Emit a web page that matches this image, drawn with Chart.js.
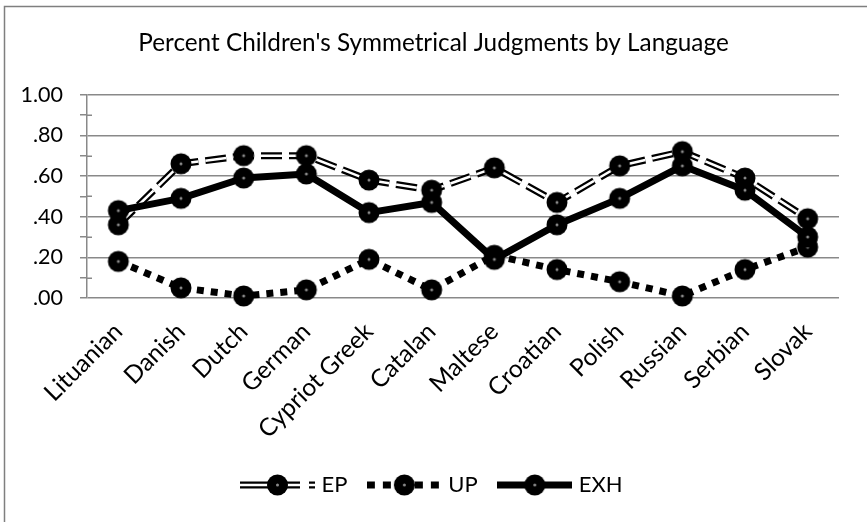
<!DOCTYPE html>
<html><head><meta charset="utf-8">
<script src="https://cdn.jsdelivr.net/npm/chart.js@4.4.1/dist/chart.umd.min.js"></script>
<style>html,body{margin:0;padding:0;background:#fff;}canvas{display:block;}</style>
</head><body>
<canvas id="c" width="867" height="522"></canvas>
<script>
const categories = ['Lituanian','Danish','Dutch','German','Cypriot Greek','Catalan','Maltese','Croatian','Polish','Russian','Serbian','Slovak'];
const epValues  = [0.36, 0.66, 0.70, 0.70, 0.58, 0.53, 0.64, 0.47, 0.65, 0.72, 0.59, 0.39];
const upValues  = [0.18, 0.05, 0.01, 0.04, 0.19, 0.04, 0.21, 0.14, 0.08, 0.01, 0.14, 0.25];
const exhValues = [0.43, 0.49, 0.59, 0.61, 0.42, 0.47, 0.19, 0.36, 0.49, 0.65, 0.53, 0.30];
const yTickLabels = ['.00', '.20', '.40', '.60', '.80', '1.00'];
const seriesNames = ['EP', 'UP', 'EXH'];
const chartTitle = "Percent Children's Symmetrical Judgments by Language";

const GRID = '#898989';
const FONT = 'Lato';
const PAD_BOTTOM = 16;
const PLOT_BOTTOM = 298;

function drawMarker(ctx, cx, cy) {
  ctx.beginPath(); ctx.arc(cx, cy, 10.5, 0, Math.PI * 2); ctx.fillStyle = '#000'; ctx.fill();
  ctx.beginPath(); ctx.arc(cx, cy, 1.5, 0, Math.PI * 2); ctx.fillStyle = '#8a8a8a'; ctx.fill();
}
function markerCanvas() {
  const c = document.createElement('canvas'); c.width = 24; c.height = 24;
  drawMarker(c.getContext('2d'), 12, 12); return c;
}
function legendSymbol(kind) {
  const c = document.createElement('canvas'); c.width = 75; c.height = 24;
  const g = c.getContext('2d'); const y = 12;
  g.lineCap = 'butt';
  if (kind === 'EP') {
    g.setLineDash([60, 9, 6, 100]);
    g.strokeStyle = '#000'; g.lineWidth = 7;
    g.beginPath(); g.moveTo(0, y); g.lineTo(75, y); g.stroke();
    g.strokeStyle = '#fff'; g.lineWidth = 2.5;
    g.beginPath(); g.moveTo(0, y); g.lineTo(75, y); g.stroke();
  } else if (kind === 'UP') {
    g.setLineDash([8, 8]);
    g.strokeStyle = '#000'; g.lineWidth = 7;
    g.beginPath(); g.moveTo(0, y); g.lineTo(75, y); g.stroke();
  } else {
    g.strokeStyle = '#000'; g.lineWidth = 7;
    g.beginPath(); g.moveTo(0, y); g.lineTo(75, y); g.stroke();
  }
  g.setLineDash([]);
  drawMarker(g, 37.5, y);
  return c;
}
const marker = markerCanvas();
const symbols = seriesNames.map(legendSymbol);

const framePlugin = {
  id: 'frame',
  beforeDraw(chart) {
    const ctx = chart.ctx;
    ctx.save();
    ctx.fillStyle = '#fff'; ctx.fillRect(0, 0, chart.width, chart.height);
    ctx.strokeStyle = '#7f7f7f'; ctx.lineWidth = 1.5;
    ctx.beginPath(); ctx.moveTo(4.5, chart.height); ctx.lineTo(4.5, 6.5); ctx.lineTo(chart.width, 6.5); ctx.stroke();
    ctx.restore();
  },
  beforeDatasetsDraw(chart) {
    const ctx = chart.ctx, ys = chart.scales.y, left = chart.chartArea.left;
    ctx.save(); ctx.strokeStyle = GRID; ctx.lineWidth = 1.5;
    ys.ticks.forEach(t => {
      if (Math.round(t.value * 10) % 2 === 1) {
        const py = Math.round(ys.getPixelForValue(t.value)) + 0.25;
        ctx.beginPath(); ctx.moveTo(left, py); ctx.lineTo(left + 5, py); ctx.stroke();
      }
    });
    ctx.restore();
  }
};

new Chart(document.getElementById('c'), {
  type: 'line',
  data: {
    labels: categories,
    datasets: [
      { label: 'EP outline', data: epValues, borderColor: '#000', borderWidth: 7, borderDash: [21, 7],
        borderCapStyle: 'butt', pointRadius: 0, order: 3, tension: 0, clip: false },
      { label: seriesNames[0], data: epValues, borderColor: '#fff', borderWidth: 2.5, borderDash: [21, 7],
        borderCapStyle: 'butt', pointStyle: marker, pointRadius: 10, order: 2, tension: 0, clip: false },
      { label: seriesNames[1], data: upValues, borderColor: '#000', borderWidth: 7, borderDash: [7, 7],
        borderCapStyle: 'butt', pointStyle: marker, pointRadius: 10, order: 1, tension: 0, clip: false },
      { label: seriesNames[2], data: exhValues, borderColor: '#000', borderWidth: 7, borderJoinStyle: 'round',
        pointStyle: marker, pointRadius: 10, order: 0, tension: 0, clip: false }
    ]
  },
  options: {
    responsive: false,
    devicePixelRatio: 1,
    animation: false,
    layout: { padding: { left: 0, right: 0, top: 0, bottom: PAD_BOTTOM } },
    plugins: {
      tooltip: { enabled: false },
      title: { display: true, text: chartTitle, color: '#000',
        font: { family: FONT, size: 24.3, weight: 'normal' }, padding: { top: 29, bottom: 36.5 } },
      legend: {
        position: 'bottom',
        labels: {
          usePointStyle: true, pointStyleWidth: 66, boxHeight: 22, padding: 24,
          color: '#000', font: { family: FONT, size: 22 },
          generateLabels: () => seriesNames.map((n, i) => ({
            text: n, pointStyle: symbols[i], fillStyle: '#000', strokeStyle: '#000',
            lineWidth: 0, hidden: false, datasetIndex: i + 1, fontColor: '#000'
          }))
        }
      }
    },
    scales: {
      x: {
        offset: true,
        grid: { display: false, drawTicks: false },
        border: { display: false },
        ticks: { autoSkip: false, minRotation: 45, maxRotation: 45, padding: 19, color: '#000',
          font: { family: FONT, size: 24.5 } },
        afterFit(s) { s.height = s.chart.height - PAD_BOTTOM - s.chart.legend.height - PLOT_BOTTOM; }
      },
      y: {
        min: 0, max: 1,
        border: { display: true, color: GRID, width: 1.5 },
        grid: {
          color: c => (Math.round(c.tick.value * 10) % 2 === 0 ? GRID : 'rgba(0,0,0,0)'),
          tickColor: GRID, tickLength: 7, lineWidth: 1.5
        },
        ticks: { stepSize: 0.1, autoSkip: false, padding: 17, color: '#000',
          font: { family: FONT, size: 21.5 },
          callback: v => { const k = Math.round(v * 10); return k % 2 === 0 ? yTickLabels[k / 2] : ''; } },
        afterFit(s) { s.width = 87; }
      },
      yRight: {
        position: 'right', display: true, min: 0, max: 1,
        grid: { display: false, drawTicks: false },
        border: { display: false },
        ticks: { display: false },
        afterFit(s) { s.width = 28; }
      }
    }
  },
  plugins: [framePlugin]
});
</script>
</body></html>
